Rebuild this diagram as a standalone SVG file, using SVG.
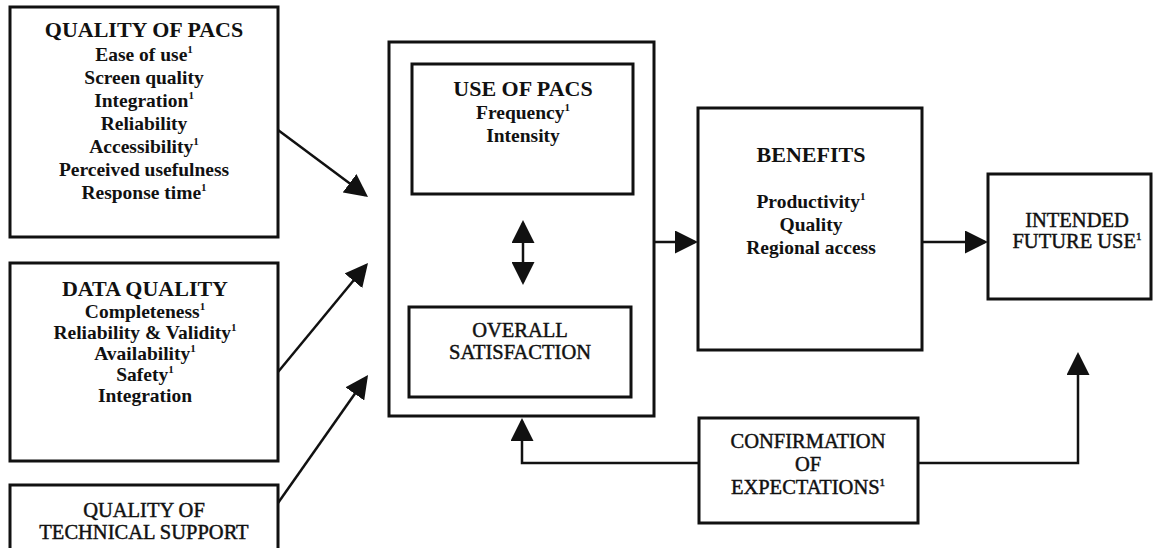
<svg xmlns="http://www.w3.org/2000/svg" width="1154" height="548" viewBox="0 0 1154 548">
<style>
  rect.box { fill: #fff; stroke: #111; stroke-width: 3; }
  text { font-family: "Liberation Serif", "Times New Roman", serif; fill: #111; text-anchor: middle; }
  .t { font-size: 22px; font-weight: bold; }
  .b { font-size: 19.5px; font-weight: bold; }
  .h { font-size: 20.5px; font-weight: normal; stroke: #111; stroke-width: 0.45; }
  .sup { font-size: 11px; }
  .conn { fill: none; stroke: #111; stroke-width: 2.5; }
</style>
<defs>
  <marker id="ah" viewBox="0 0 23 23" refX="20" refY="11.5" markerWidth="23" markerHeight="23" markerUnits="userSpaceOnUse" orient="auto-start-reverse">
    <path d="M0,0 L23,11.5 L0,23 z" fill="#111"/>
  </marker>
</defs>
<rect width="1154" height="548" fill="#fff"/>

<g id="quality-of-pacs">
  <rect class="box" x="10" y="7" width="268" height="230"/>
  <text class="t" x="144" y="37">QUALITY OF PACS</text>
  <text class="b" x="144" y="61">Ease of use<tspan class="sup" dy="-8">1</tspan></text>
  <text class="b" x="144" y="84">Screen quality</text>
  <text class="b" x="144" y="107">Integration<tspan class="sup" dy="-8">1</tspan></text>
  <text class="b" x="144" y="130">Reliability</text>
  <text class="b" x="144" y="153">Accessibility<tspan class="sup" dy="-8">1</tspan></text>
  <text class="b" x="144" y="176">Perceived usefulness</text>
  <text class="b" x="144" y="199">Response time<tspan class="sup" dy="-8">1</tspan></text>
</g>

<g id="data-quality">
  <rect class="box" x="10" y="263" width="268" height="198"/>
  <text class="t" x="145" y="296">DATA QUALITY</text>
  <text class="b" x="145" y="318">Completeness<tspan class="sup" dy="-8">1</tspan></text>
  <text class="b" x="145" y="339">Reliability &amp; Validity<tspan class="sup" dy="-8">1</tspan></text>
  <text class="b" x="145" y="360">Availability<tspan class="sup" dy="-8">1</tspan></text>
  <text class="b" x="145" y="381">Safety<tspan class="sup" dy="-8">1</tspan></text>
  <text class="b" x="145" y="402">Integration</text>
</g>

<g id="technical-support">
  <rect class="box" x="10" y="485" width="268" height="80"/>
  <text class="h" x="144" y="517">QUALITY OF</text>
  <text class="h" x="144" y="539">TECHNICAL SUPPORT</text>
</g>

<g id="use-satisfaction-container">
  <rect class="box" x="389" y="42" width="265" height="374"/>
</g>

<g id="use-of-pacs">
  <rect class="box" x="412" y="64" width="221" height="130"/>
  <text class="t" x="523" y="96">USE OF PACS</text>
  <text class="b" x="523" y="119">Frequency<tspan class="sup" dy="-8">1</tspan></text>
  <text class="b" x="523" y="142">Intensity</text>
</g>

<g id="overall-satisfaction">
  <rect class="box" x="409" y="307" width="222" height="90"/>
  <text class="h" x="520" y="337">OVERALL</text>
  <text class="h" x="520" y="359">SATISFACTION</text>
</g>

<g id="benefits">
  <rect class="box" x="698" y="108" width="224" height="242"/>
  <text class="t" x="811" y="162">BENEFITS</text>
  <text class="b" x="811" y="208">Productivity<tspan class="sup" dy="-8">1</tspan></text>
  <text class="b" x="811" y="231">Quality</text>
  <text class="b" x="811" y="254">Regional access</text>
</g>

<g id="intended-future-use">
  <rect class="box" x="988" y="174" width="163" height="125"/>
  <text class="h" x="1077" y="227">INTENDED</text>
  <text class="h" x="1077" y="248">FUTURE USE<tspan class="sup" dy="-8">1</tspan></text>
</g>

<g id="confirmation">
  <rect class="box" x="699" y="418" width="219" height="105"/>
  <text class="h" x="808" y="448">CONFIRMATION</text>
  <text class="h" x="808" y="471">OF</text>
  <text class="h" x="808" y="494">EXPECTATIONS<tspan class="sup" dy="-8">1</tspan></text>
</g>

<g id="connectors">
  <path class="conn" d="M278,130 L365.6,195.2" marker-end="url(#ah)"/>
  <path class="conn" d="M278,372 L366.1,265.3" marker-end="url(#ah)"/>
  <path class="conn" d="M278,503 L366.3,377.5" marker-end="url(#ah)"/>
  <path class="conn" d="M523,223 L523,282" marker-start="url(#ah)" marker-end="url(#ah)"/>
  <path class="conn" d="M655,242 L695,242" marker-end="url(#ah)"/>
  <path class="conn" d="M923,242 L985,242" marker-end="url(#ah)"/>
  <path class="conn" d="M699,463 H522 V421" marker-end="url(#ah)"/>
  <path class="conn" d="M918,463 H1078 V355" marker-end="url(#ah)"/>
</g>
</svg>
